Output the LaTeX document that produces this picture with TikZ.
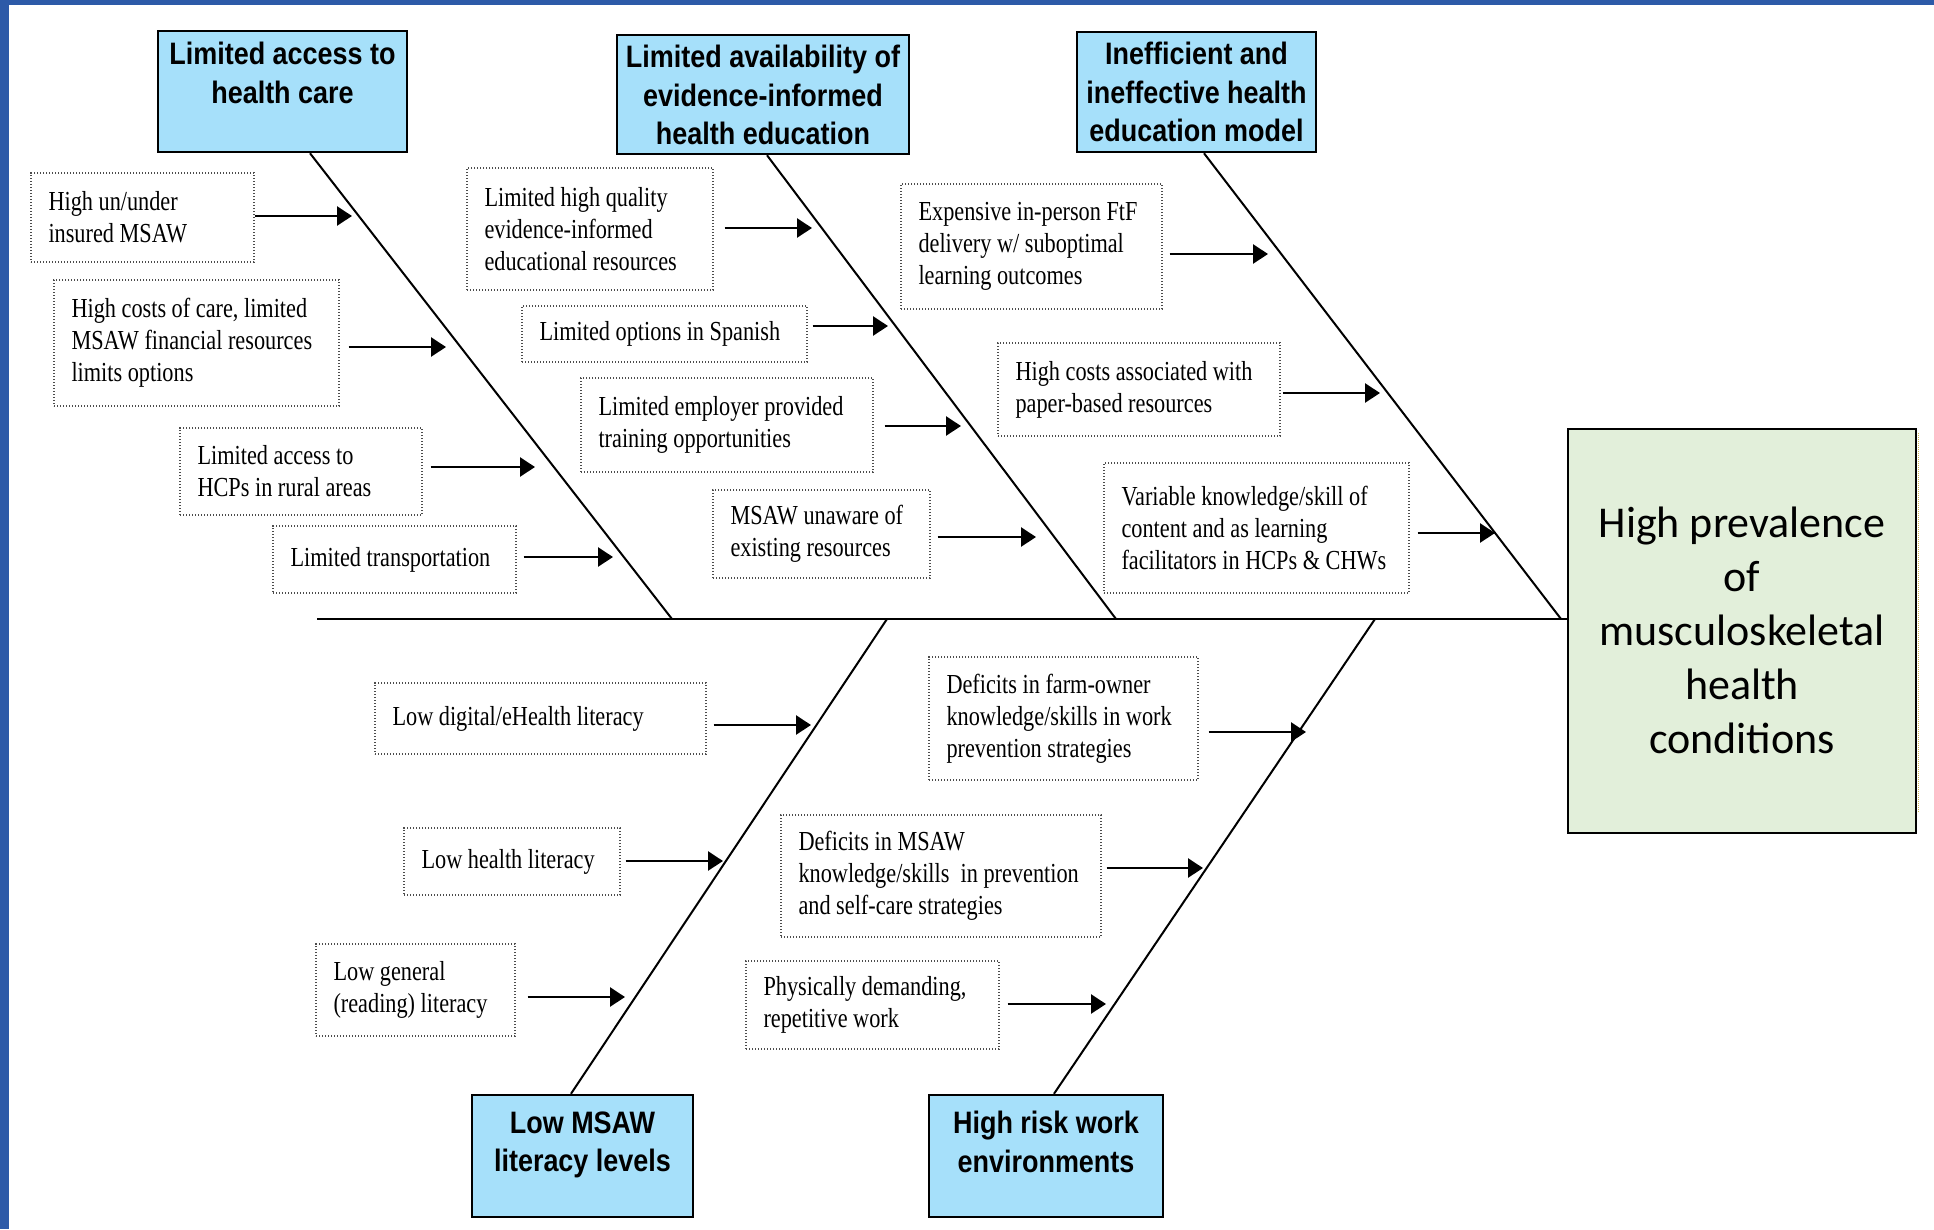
\documentclass[tikz,border=0pt]{standalone}
\usepackage{fontspec}
\usetikzlibrary{arrows.meta,fit}
\newfontfamily\titlefont[FakeStretch=0.87]{Liberation Sans}
\newfontfamily\causefont[FakeStretch=0.81]{Liberation Serif}
\newfontfamily\effectfont{Carlito}
\definecolor{frameblue}{RGB}{45,90,168}
\definecolor{titleblue}{RGB}{166,224,250}
\definecolor{effectgreen}{RGB}{226,239,218}
\definecolor{edgeyellow}{RGB}{205,185,80}
\newcommand\causeitem[9]{%
  \node[causebox, fit={(#2,#3) (#4,#5)}] (#1) {};
  \node[causetext] (#1t) at ([xshift=18pt]#1.west) {#6};
  \coordinate (#1e) at (#8,#9);
  \draw[arr, shorten <=#7pt] (#1.east |- #1e) -- (#1e);
}
\begin{document}
\begin{tikzpicture}[x=1pt,y=-1pt,
  titlebox/.style={draw=black, line width=2.5pt, fill=titleblue, inner sep=0pt},
  titletext/.style={font=\titlefont\bfseries\fontsize{31}{38.5}\selectfont, align=center, inner sep=0pt},
  causebox/.style={draw=black!70, line width=1.4pt, dash pattern=on 1.4pt off 1.6pt, inner sep=0pt},
  causetext/.style={font=\causefont\fontsize{27.5}{32}\selectfont, align=left, inner sep=0pt, anchor=west},
  bone/.style={line width=2pt},
  arr/.style={line width=2.6pt, -{Triangle[length=15pt,width=19pt]}},
]
\useasboundingbox (0,0) rectangle (1934,1229);
\fill[white] (0,0) rectangle (1934,1229);
\fill[frameblue] (0,0) rectangle (9,1229);
\fill[frameblue] (0,0) rectangle (1934,5);

% effect box
\node[fit={(1568,429) (1916,833)}, draw, line width=2pt, fill=effectgreen, inner sep=0pt] (main) {};
\node[font=\effectfont\fontsize{44}{54}\selectfont, align=center, inner sep=0pt] (maint) at ([yshift=1pt]main.center)
  {High prevalence\\of\\musculoskeletal\\health\\conditions};
\draw[edgeyellow, line width=1pt, dash pattern=on 1pt off 1pt] (1918,433) -- (1918,813);

% category boxes
\node[titlebox, fit={(158,31) (407,152)}] (t1) {};
\node[titletext] (t1t) at (282.5,73) {Limited access to\\health care};
\node[titlebox, fit={(617,35) (909,154)}] (t2) {};
\node[titletext] (t2t) at (763,95) {Limited availability of\\evidence-informed\\health education};
\node[titlebox, fit={(1077,32) (1316,152)}] (t3) {};
\node[titletext] (t3t) at (1196.5,92) {Inefficient and\\ineffective health\\education model};
\node[titlebox, fit={(472,1095) (693,1217)}] (t4) {};
\node[titletext] (t4t) at (582.5,1145) {Low MSAW\\literacy levels};
\node[titlebox, fit={(929,1095) (1163,1217)}] (t5) {};
\node[titletext] (t5t) at (1046,1142) {High risk work\\environments};

% spine and bones
\coordinate (spL) at (317,619);
\coordinate (j1) at (672,619);
\coordinate (j2) at (1116,619);
\coordinate (j3) at (1561,619);
\coordinate (j4) at (887,619);
\coordinate (j5) at (1375,619);
\draw[line width=2.3pt] (spL) -- (spL -| main.west);
\draw[bone] ([xshift=27.5pt]t1.south) -- (j1);
\draw[bone] ([xshift=4pt]t2.south) -- (j2);
\draw[bone] ([xshift=7.5pt]t3.south) -- (j3);
\draw[bone] (j4) -- ([xshift=-11.5pt]t4.north);
\draw[bone] (j5) -- ([xshift=8pt]t5.north);

% causes
\causeitem{b1}{31}{173}{254}{262}{High un/under\\insured MSAW}{0}{352}{216}
\causeitem{b2}{54}{280}{339}{406}{High costs of care, limited\\MSAW financial resources\\limits options}{9}{446}{347}
\causeitem{b3}{180}{428}{422}{515}{Limited access to\\HCPs in rural areas}{8}{535}{467}
\causeitem{b4}{273}{526}{516}{593}{Limited transportation}{7}{613}{557}
\causeitem{b5}{467}{168}{713}{290}{Limited high quality\\evidence-informed\\educational resources}{11}{812}{228}
\causeitem{b6}{522}{306}{807}{362}{Limited options in Spanish}{5}{888}{326}
\causeitem{b7}{581}{378}{873}{472}{Limited employer provided\\training opportunities}{11}{961}{426}
\causeitem{b8}{713}{490}{930}{578}{MSAW unaware of\\existing resources}{7}{1036}{537}
\causeitem{b9}{901}{184}{1162}{309}{Expensive in-person FtF\\delivery w/ suboptimal\\learning outcomes}{7}{1268}{254}
\causeitem{b10}{998}{343}{1280}{436}{High costs associated with\\paper-based resources}{2}{1380}{393}
\causeitem{b11}{1104}{463}{1409}{593}{Variable knowledge/skill of\\content and as learning\\facilitators in HCPs \& CHWs}{8}{1495}{533}
\causeitem{b12}{375}{683}{706}{754}{Low digital/eHealth literacy}{7}{811}{725}
\causeitem{b13}{404}{828}{620}{895}{Low health literacy}{5}{723}{861}
\causeitem{b14}{316}{944}{515}{1036}{Low general\\(reading) literacy}{12}{625}{997}
\causeitem{b15}{929}{657}{1198}{780}{Deficits in farm-owner\\knowledge/skills in work\\prevention strategies}{10}{1306}{732}
\causeitem{b16}{781}{815}{1101}{937}{Deficits in MSAW\\knowledge/skills\ \ in prevention\\and self-care strategies}{5}{1203}{868}
\causeitem{b17}{746}{961}{999}{1049}{Physically demanding,\\repetitive work}{8}{1106}{1004}
\end{tikzpicture}
\end{document}
